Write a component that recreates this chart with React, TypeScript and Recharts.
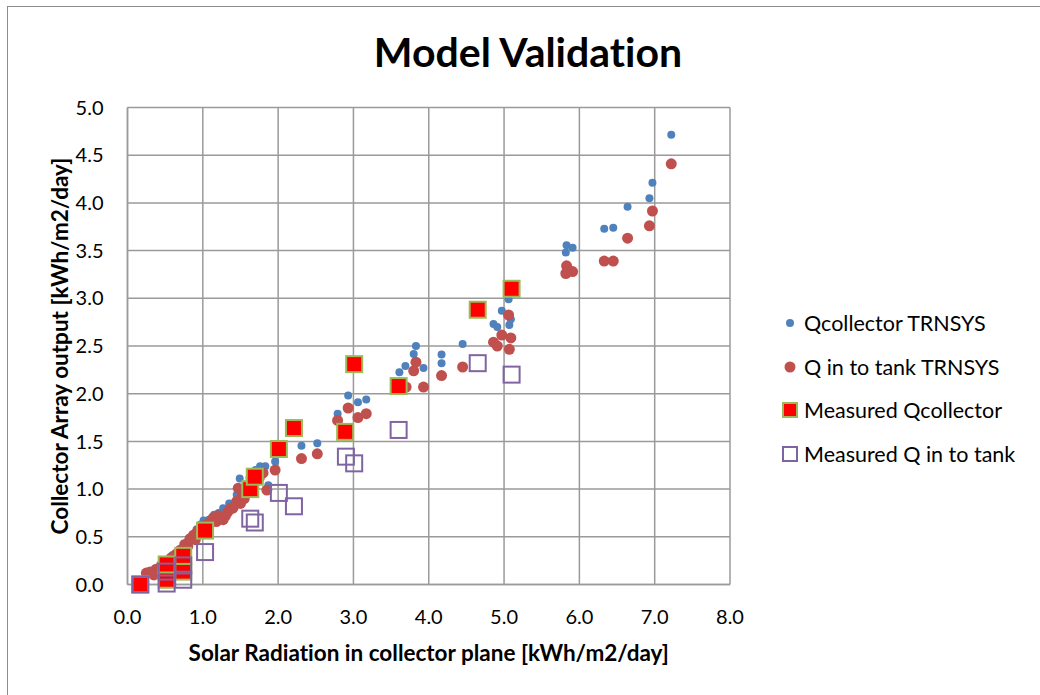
import { ScatterChart, Scatter, XAxis, YAxis, CartesianGrid } from 'recharts'

// [solar radiation, output] pairs
const qcollectorTrnsys: [number, number][] = [
  [0.33, 0.12], [0.42, 0.17], [0.5, 0.22], [0.58, 0.28], [0.6, 0.31], [0.65, 0.33], [0.72, 0.38],
  [0.78, 0.42], [0.8, 0.45], [0.86, 0.52], [0.92, 0.58], [0.97, 0.63], [1.0, 0.6], [1.01, 0.67], [1.08, 0.68],
  [1.15, 0.73], [1.21, 0.75], [1.27, 0.8], [1.35, 0.85], [1.45, 0.94], [1.49, 1.11], [1.5, 1.0],
  [1.55, 1.0], [1.6, 1.05], [1.62, 1.12], [1.7, 1.2], [1.76, 1.24], [1.83, 1.24], [1.87, 1.04],
  [1.96, 1.29], [2.31, 1.455], [2.52, 1.48], [2.79, 1.79], [2.93, 1.98], [3.06, 1.91],
  [3.17, 1.94], [3.61, 2.225], [3.69, 2.29], [3.8, 2.415], [3.83, 2.5], [3.93, 2.27],
  [4.17, 2.41], [4.17, 2.32], [4.45, 2.52], [4.86, 2.73], [4.91, 2.7], [4.97, 2.87],
  [5.06, 2.99], [5.07, 2.72], [5.09, 2.78], [5.82, 3.48], [5.83, 3.555], [5.91, 3.53],
  [6.33, 3.73], [6.45, 3.74], [6.64, 3.96], [6.93, 4.05], [6.97, 4.21], [7.22, 4.715],
]

const qTankTrnsys: [number, number][] = [
  [0.25, 0.12], [0.3, 0.13], [0.35, 0.1], [0.38, 0.16], [0.42, 0.13], [0.45, 0.2], [0.52, 0.24],
  [0.55, 0.22], [0.58, 0.28], [0.62, 0.25], [0.65, 0.32], [0.68, 0.3], [0.7, 0.36], [0.74, 0.33],
  [0.76, 0.42], [0.8, 0.4], [0.83, 0.48], [0.88, 0.52], [0.9, 0.47], [0.93, 0.56], [0.98, 0.55],
  [1.03, 0.62], [1.06, 0.6], [1.1, 0.65], [1.14, 0.7], [1.18, 0.66], [1.2, 0.72], [1.27, 0.68],
  [1.3, 0.72], [1.33, 0.76], [1.37, 0.8], [1.4, 0.8], [1.45, 0.87], [1.47, 1.01], [1.5, 0.85],
  [1.52, 0.92], [1.55, 0.9], [1.58, 0.98], [1.6, 1.02], [1.65, 1.05], [1.68, 1.08], [1.72, 1.1],
  [1.75, 1.12], [1.8, 1.17], [1.85, 0.99], [1.96, 1.2], [2.31, 1.32], [2.52, 1.37],
  [2.79, 1.72], [2.93, 1.85], [3.06, 1.75], [3.17, 1.79], [3.7, 2.07], [3.8, 2.24],
  [3.83, 2.33], [3.93, 2.07], [4.17, 2.19], [4.45, 2.28], [4.86, 2.54], [4.91, 2.5],
  [4.97, 2.615], [5.06, 2.825], [5.07, 2.465], [5.09, 2.585], [5.82, 3.26], [5.83, 3.34],
  [5.91, 3.28], [6.33, 3.39], [6.45, 3.39], [6.64, 3.63], [6.93, 3.76], [6.97, 3.915],
  [7.22, 4.41],
]

const measuredQcollector: [number, number][] = [
  [0.17, 0.0], [0.52, 0.05], [0.52, 0.21], [0.74, 0.135], [0.74, 0.3], [1.03, 0.565],
  [1.63, 1.0], [1.69, 1.13], [2.01, 1.42], [2.21, 1.64], [2.89, 1.6], [3.01, 2.31],
  [3.6, 2.08], [4.65, 2.88], [5.1, 3.1],
]

const measuredQTank: [number, number][] = [
  [0.17, 0.0], [0.52, 0.01], [0.52, 0.135], [0.74, 0.05], [0.74, 0.2], [1.03, 0.34],
  [1.63, 0.69], [1.69, 0.65], [2.01, 0.96], [2.21, 0.82], [2.9, 1.34], [3.01, 1.27],
  [3.6, 1.62], [4.65, 2.32], [5.1, 2.2],
]

const xTicks = [0, 1, 2, 3, 4, 5, 6, 7, 8]
const yTicks = [0, 0.5, 1, 1.5, 2, 2.5, 3, 3.5, 4, 4.5, 5]

const toPoints = (arr: [number, number][]) => arr.map(([x, y]) => ({ x, y }))

const FONT = 'Lato, "Open Sans", sans-serif'
const BLUE = '#4f81bd'
const RED = '#c0504d'
const GRID = '#9a9a9a'

const BlueDot = (p: any) => <circle cx={p.cx} cy={p.cy} r={4} fill={BLUE} />
const RedDot = (p: any) => <circle cx={p.cx} cy={p.cy} r={5.5} fill={RED} />
const RedSquare = (p: any) => (
  <rect x={p.cx - 8} y={p.cy - 8} width={16} height={16} fill="#ff0000" stroke="#9bbb59" strokeWidth={2} />
)
const HollowSquare = (p: any) => (
  <rect x={p.cx - 8} y={p.cy - 8} width={16} height={16} fill="none" stroke="#8064a2" strokeWidth={2} />
)

const legendItems = [
  { name: 'Qcollector TRNSYS', kind: 'blue' },
  { name: 'Q in to tank TRNSYS', kind: 'red' },
  { name: 'Measured Qcollector', kind: 'sq' },
  { name: 'Measured Q in to tank', kind: 'hollow' },
]

function LegendBox() {
  return (
    <div style={{ position: 'absolute', left: 780, top: 301, fontFamily: FONT, fontSize: 21.5, color: '#000' }}>
      {legendItems.map((it) => (
        <div key={it.name} style={{ display: 'flex', alignItems: 'center', height: 43.7 }}>
          <svg width={20} height={18} style={{ marginRight: 4 }}>
            {it.kind === 'blue' && <circle cx={10} cy={9} r={4} fill={BLUE} />}
            {it.kind === 'red' && <circle cx={10} cy={9} r={5.5} fill={RED} />}
            {it.kind === 'sq' && <rect x={3} y={2} width={14} height={14} fill="#ff0000" stroke="#9bbb59" strokeWidth={2} />}
            {it.kind === 'hollow' && <rect x={3} y={2} width={14} height={14} fill="none" stroke="#8064a2" strokeWidth={2} />}
          </svg>
          <span>{it.name}</span>
        </div>
      ))}
    </div>
  )
}

export default function App() {
  return (
    <div
      style={{
        position: 'absolute', left: 0, top: 0, width: 1040, height: 695, background: '#fff',
        overflow: 'hidden', fontVariantLigatures: 'none',
      }}
    >
      <div style={{ position: 'absolute', left: 7, top: 6, width: 1040, height: 700, border: '1px solid #8c8c8c' }} />
      <div
        style={{
          position: 'absolute', left: 0, top: 27, width: 1056, textAlign: 'center',
          fontFamily: FONT, fontWeight: 'bold', fontSize: 41, color: '#000',
        }}
      >
        Model Validation
      </div>
      <ScatterChart
        width={1040}
        height={695}
        margin={{ top: 107.5, right: 310, bottom: 30.5, left: 37.5 }}
        style={{ position: 'absolute', left: 0, top: 0 }}
      >
        <CartesianGrid stroke={GRID} strokeWidth={1.5} horizontalValues={yTicks} verticalValues={xTicks} />
        <XAxis
          type="number"
          dataKey="x"
          domain={[0, 8]}
          ticks={xTicks}
          tickFormatter={(v: number) => v.toFixed(1)}
          tickLine={false}
          axisLine={{ stroke: GRID, strokeWidth: 1.5 }}
          tickMargin={19}
          height={80}
          tick={{ fill: '#000', fontSize: 20, fontFamily: FONT }}
          label={{
            value: 'Solar Radiation in collector plane [kWh/m2/day]',
            position: 'insideBottom',
            offset: 3.5,
            style: { fill: '#000', fontSize: 22.5, fontWeight: 'bold', fontFamily: FONT },
          }}
        />
        <YAxis
          type="number"
          dataKey="y"
          domain={[0, 5]}
          ticks={yTicks}
          tickFormatter={(v: number) => v.toFixed(1)}
          tickLine={false}
          axisLine={{ stroke: GRID, strokeWidth: 1.5 }}
          tickMargin={18}
          width={90}
          tick={{ fill: '#000', fontSize: 20, fontFamily: FONT }}
          label={{
            value: 'Collector Array output [kWh/m2/day]',
            angle: -90,
            position: 'insideLeft',
            offset: 23,
            style: { textAnchor: 'middle', fill: '#000', fontSize: 22.5, fontWeight: 'bold', fontFamily: FONT },
          }}
        />
        <Scatter name="Qcollector TRNSYS" data={toPoints(qcollectorTrnsys)} shape={BlueDot} isAnimationActive={false} />
        <Scatter name="Q in to tank TRNSYS" data={toPoints(qTankTrnsys)} shape={RedDot} isAnimationActive={false} />
        <Scatter name="Measured Qcollector" data={toPoints(measuredQcollector)} shape={RedSquare} isAnimationActive={false} />
        <Scatter name="Measured Q in to tank" data={toPoints(measuredQTank)} shape={HollowSquare} isAnimationActive={false} />
      </ScatterChart>
      <LegendBox />
    </div>
  )
}
